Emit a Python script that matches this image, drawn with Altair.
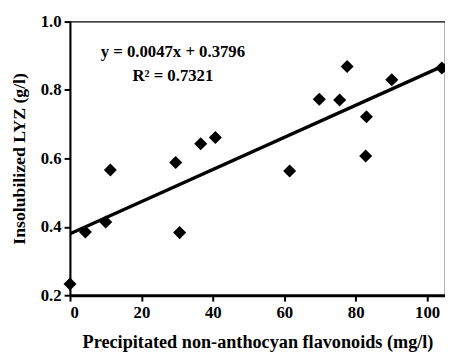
import altair as alt
import pandas as pd

x_vals = [0.0, 4.3, 10.0, 11.3, 29.6, 30.7, 36.6, 40.7, 61.5, 69.8, 75.5, 77.6, 83.0, 82.8, 90.1, 104.1]
y_vals = [0.233, 0.385, 0.414, 0.566, 0.588, 0.383, 0.643, 0.661, 0.563, 0.773, 0.771, 0.869, 0.722, 0.607, 0.830, 0.864]

slope = 0.0047
intercept = 0.3796
fit_x = [0.0, 105.0]

eq_lines = ["y = 0.0047x + 0.3796", "R² = 0.7321"]
eq_x = [28.8, 28.8]
eq_y = [0.912, 0.842]

x_ticks = [0, 10, 20, 30, 40, 50, 60, 70, 80, 90, 100]
y_ticks = [0.2, 0.3, 0.4, 0.5, 0.6, 0.7, 0.8, 0.9, 1.0]

FONT = "Liberation Serif"

pts = pd.DataFrame({"x": x_vals, "y": y_vals})
fit = pd.DataFrame({"x": fit_x, "y": [slope * v + intercept for v in fit_x]})
ann = pd.DataFrame({"x": eq_x, "y": eq_y, "t": eq_lines})

xscale = alt.Scale(domain=[0, 105], nice=False, zero=False)
yscale = alt.Scale(domain=[0.2, 1.0], nice=False, zero=False)

xaxis = alt.Axis(
    title="Precipitated non-anthocyan flavonoids (mg/l)",
    values=x_ticks,
    labelExpr="datum.value % 20 == 0 ? datum.label : ''",
    grid=False,
    domainColor="black", domainWidth=3,
    tickColor="black", tickSize=6, tickWidth=2,
    labelFont=FONT, labelFontWeight="bold", labelFontSize=17, labelColor="black",
    labelPadding=4,
    titleFont=FONT, titleFontWeight="bold", titleFontSize=18.5, titleColor="black",
    titlePadding=12,
)
yaxis = alt.Axis(
    title="Insolubilized LYZ (g/l)",
    values=y_ticks,
    labelExpr="round(datum.value*10) % 2 == 0 ? format(datum.value, '.1f') : ''",
    grid=False,
    domainColor="black", domainWidth=2,
    tickColor="black", tickSize=6, tickWidth=2,
    labelFont=FONT, labelFontWeight="bold", labelFontSize=17, labelColor="black",
    labelPadding=3,
    titleFont=FONT, titleFontWeight="bold", titleFontSize=18, titleColor="black",
    titlePadding=12,
)

points = alt.Chart(pts).mark_point(
    shape="diamond", filled=True, color="black", size=175, opacity=1
).encode(
    x=alt.X("x:Q", scale=xscale, axis=xaxis),
    y=alt.Y("y:Q", scale=yscale, axis=yaxis),
)

line = alt.Chart(fit).mark_line(color="black", strokeWidth=3.5, clip=True).encode(
    x=alt.X("x:Q", scale=xscale),
    y=alt.Y("y:Q", scale=yscale),
)

text = alt.Chart(ann).mark_text(
    font=FONT, fontWeight="bold", fontSize=17, color="black", align="center", baseline="middle"
).encode(
    x=alt.X("x:Q", scale=xscale),
    y=alt.Y("y:Q", scale=yscale),
    text="t:N",
)

chart = alt.layer(line, points, text).properties(
    width=381, height=278,
    autosize=alt.AutoSizeParams(type="none"),
    padding={"left": 63, "top": 11, "right": 0, "bottom": 62},
    background="white",
).configure_view(stroke="black", strokeWidth=1.2)

chart.save("out.html", embed_options={"renderer": "svg", "actions": False})
